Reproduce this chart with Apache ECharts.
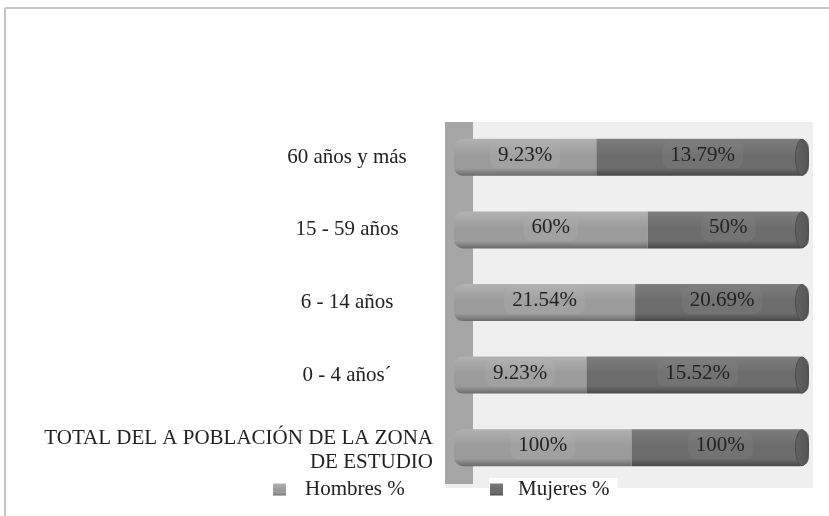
<!DOCTYPE html>
<html>
<head>
<meta charset="utf-8">
<script src="https://cdn.jsdelivr.net/npm/echarts@6/dist/echarts.min.js"></script>
<style>
html,body{margin:0;padding:0;background:#fff;}
#chart{width:829px;height:516px;}
</style>
</head>
<body>
<div id="chart"></div>
<script>
var categories = ['60 años y más', '15 - 59 años', '6 - 14 años', '0 - 4 años´', 'TOTAL DEL A POBLACIÓN DE LA ZONA\nDE ESTUDIO'];
var hombres = [9.23, 60, 21.54, 9.23, 100];
var mujeres = [13.79, 50, 20.69, 15.52, 100];
var seriesNames = ['Hombres %', 'Mujeres %'];

// 100% stacked: each bar shows the share of the row total
var hShare = hombres.map(function (v, i) { return v / (v + mujeres[i]); });
var mShare = mujeres.map(function (v, i) { return v / (hombres[i] + v); });
var capData = categories.map(function (c, i) { return [hShare[i] + mShare[i], i]; });

var FONT = '"Liberation Serif", "DejaVu Serif", serif';
var FS = 21;

var chart = echarts.init(document.getElementById('chart'), null, {renderer: 'canvas'});

function cyl(top, mid, bot) {
  return new echarts.graphic.LinearGradient(0, 0, 0, 1, [
    {offset: 0, color: top},
    {offset: 0.45, color: mid},
    {offset: 0.8, color: mid},
    {offset: 1, color: bot}
  ]);
}

var labelBase = {
  show: true,
  position: 'inside',
  fontFamily: FONT,
  fontSize: FS,
  color: '#222',
  padding: [2, 8, 4, 8],
  borderRadius: 8,
  offset: [0, -2]
};

chart.setOption({
  animation: false,
  backgroundColor: '#fff',
  graphic: [
    {type: 'line', shape: {x1: 5, y1: 8, x2: 829, y2: 8}, style: {stroke: '#c4c4c4', lineWidth: 2}, z: -10},
    {type: 'line', shape: {x1: 5, y1: 8, x2: 5, y2: 516}, style: {stroke: '#c4c4c4', lineWidth: 2}, z: -10},
    {type: 'rect', shape: {x: 445, y: 122, width: 368, height: 366}, style: {fill: '#efefef'}, z: -10},
    {type: 'rect', shape: {x: 445, y: 122, width: 28, height: 362}, style: {fill: '#a6a6a6'}, z: -9}
  ],
  grid: {left: 454, right: 20, top: 121, height: 363, containLabel: false},
  legend: [
    {
      data: [seriesNames[0]], left: 273, top: 479, icon: 'rect', itemWidth: 13, itemHeight: 12,
      padding: 0,
      textStyle: {fontFamily: FONT, fontSize: FS, color: '#222', padding: [0, 0, 0, 14]}
    },
    {
      data: [seriesNames[1]], left: 489, top: 478, icon: 'rect', itemWidth: 13, itemHeight: 12,
      backgroundColor: '#fff', padding: [1, 8, 2, 1],
      textStyle: {fontFamily: FONT, fontSize: FS, color: '#222', padding: [0, 0, 0, 10]}
    }
  ],
  xAxis: {type: 'value', min: 0, max: 1, show: false},
  yAxis: {
    type: 'category',
    inverse: true,
    data: categories,
    axisLine: {show: false},
    axisTick: {show: false},
    axisLabel: {
      margin: 21,
      fontFamily: FONT,
      fontSize: FS,
      color: '#222',
      formatter: function (v) {
        if (v.indexOf('\n') >= 0) return '{t|' + v + '}';
        return '{c|' + v + '}';
      },
      rich: {
        c: {width: 172, align: 'center', fontFamily: FONT, fontSize: FS, color: '#222'},
        t: {align: 'right', fontFamily: FONT, fontSize: FS, color: '#222', lineHeight: 24, padding: [5, 0, 0, 0]}
      }
    }
  },
  series: [
    {
      name: seriesNames[0],
      type: 'bar',
      stack: 'total',
      barCategoryGap: '49%',
      data: hShare,
      itemStyle: {color: cyl('#b2b2b2', '#9b9b9b', '#6a6a6a'), borderRadius: [9, 0, 0, 9]},
      label: Object.assign({}, labelBase, {
        backgroundColor: 'rgba(180,180,180,0.22)',
        formatter: function (p) { return hombres[p.dataIndex] + '%'; }
      })
    },
    {
      name: seriesNames[1],
      type: 'bar',
      stack: 'total',
      data: mShare,
      itemStyle: {color: cyl('#7e7e7e', '#6c6c6c', '#474747'), borderRadius: [0, 9, 9, 0]},
      label: Object.assign({}, labelBase, {
        backgroundColor: 'rgba(135,135,135,0.25)',
        formatter: function (p) { return mujeres[p.dataIndex] + '%'; }
      })
    },
    {
      type: 'custom',
      silent: true,
      z: 5,
      data: capData,
      renderItem: function (params, api) {
        var pt = api.coord([api.value(0), api.value(1)]);
        var h = api.size([0, 1])[1] * 0.51;
        return {
          type: 'ellipse',
          shape: {cx: pt[0] - 7, cy: pt[1], rx: 6.5, ry: h / 2 - 0.5},
          style: {
            fill: new echarts.graphic.LinearGradient(0, 0, 1, 0, [
              {offset: 0, color: '#626262'},
              {offset: 1, color: '#555555'}
            ]),
            stroke: '#4d4d4d',
            lineWidth: 1
          }
        };
      }
    }
  ]
});
</script>
</body>
</html>
